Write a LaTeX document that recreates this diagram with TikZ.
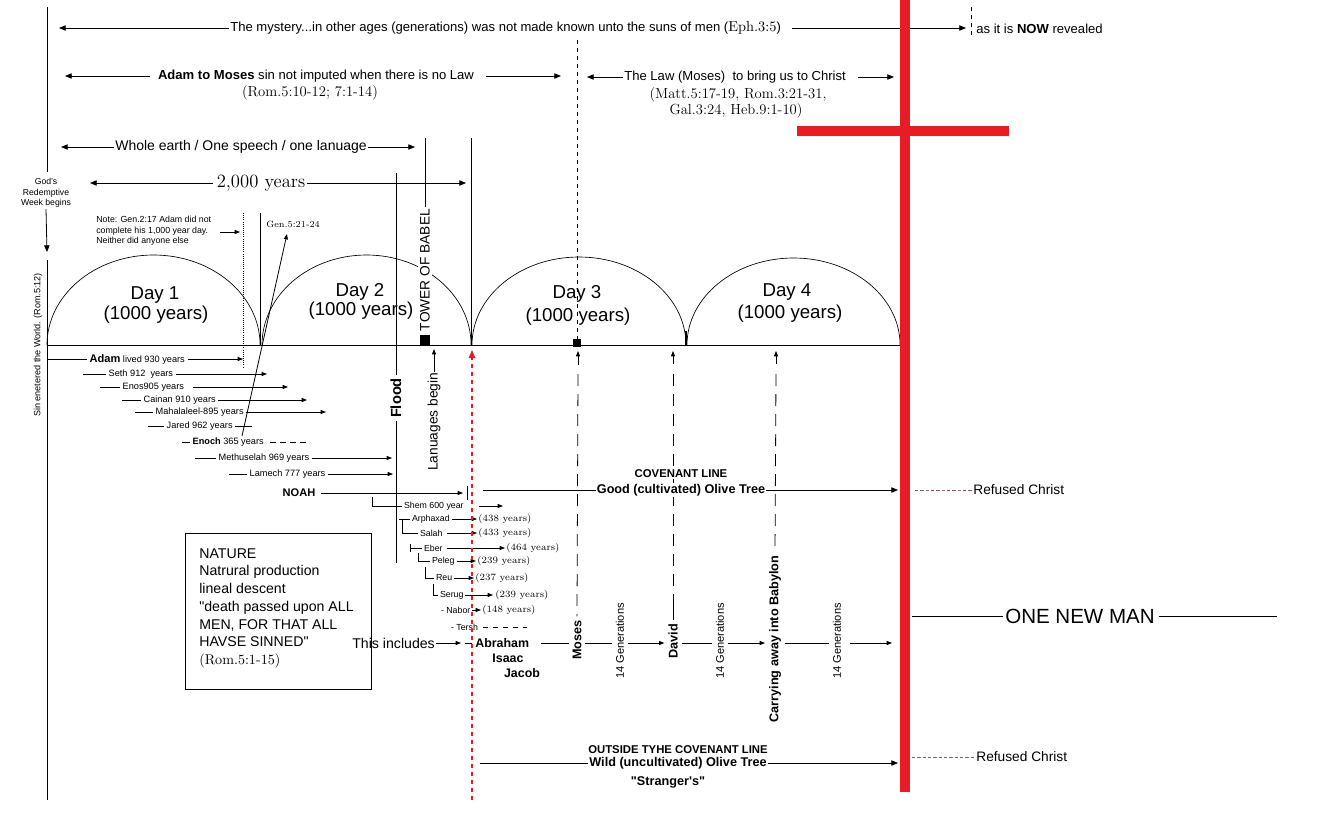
\documentclass[tikz,border=0pt]{standalone}
\usepackage{fontspec}
\setsansfont{Liberation Sans}
\newfontfamily\sfplain{Liberation Sans}[Ligatures=TeXOff]
\usetikzlibrary{arrows.meta}
\definecolor{crossred}{RGB}{232,28,36}
\definecolor{refgray}{RGB}{130,100,100}
\newcommand\sfz[2]{\sffamily\fontsize{#1}{#2}\selectfont}
\newcommand\rmz[2]{\rmfamily\fontsize{#1}{#2}\selectfont}
\begin{document}
\begin{tikzpicture}[x=0.75pt,y=-0.75pt,
  every node/.style={inner sep=1pt,outer sep=0pt,font=\sfz{9.8}{11.8}},
  ln/.style={line width=0.6pt},
  arr/.style={ln,-{Triangle[length=5pt,width=4pt]}},
  sarr/.style={ln,-{Triangle[length=4pt,width=3pt]}},
  gen/.style={anchor=west,inner sep=2pt,font=\sfz{6.9}{8}},
  gen2/.style={anchor=west,inner sep=1.5pt,font=\sfz{6.6}{8}},
  yrs/.style={anchor=west,inner sep=1pt,font=\rmz{7.2}{8}},
  dayt/.style={font=\sfz{14}{16}},
  refs/.style={font=\rmz{11}{13}},
  vbold/.style={rotate=90,inner sep=3pt,font=\bfseries\sfz{9.5}{11}},
  vgen/.style={rotate=90,inner sep=3pt,font=\sfz{8.3}{10}},
  bigdash/.style={ln,dash pattern=on 9pt off 6pt},
  ]
\useasboundingbox (0,0) rectangle (1317,826);
\fill[white] (0,0) rectangle (1317,826);

% ---------- left frame ----------
\coordinate (L0) at (47,7);
\coordinate (L1) at (47,172);
\coordinate (L2) at (47,260);
\coordinate (L3) at (47,800);
\coordinate (Ltip) at (47,252);
\draw[ln] (L0) -- (L1);
\node[font=\sfz{6.5}{8}, align=center] (gods) at (46,193) {God's\\Redemptive\\Week begins};
\draw[arr] (gods.south) -- (Ltip);
\draw[ln] (L2) -- (L3);
\node[rotate=90, font=\sfz{6.8}{8}] (sin) at (38,345) {Sin enetered the World. (Rom.5:12)};

% ---------- top row ----------
\node[anchor=west] (myst) at (229,28) {The mystery...in other ages (generations) was not made known unto the suns of men ({\rmfamily\fontsize{10.8}{12}\selectfont Eph.3:5})};
\coordinate (mystL) at (59,28);
\coordinate (mystR) at (966,28);
\draw[arr] (myst.west) -- (mystL);
\draw[arr] ([xshift=7pt]myst.east) -- (mystR);
\coordinate (nowT) at (971,7);
\coordinate (nowB) at (971,36);
\draw[ln,dashed] (nowT) -- (nowB);
\node[anchor=west] (now) at (975,29) {as it is \textbf{NOW} revealed};

% ---------- Adam to Moses ----------
\node (atm) at (316,76) {\textbf{Adam to Moses} sin not imputed when there is no Law};
\coordinate (atmL) at (65,76);
\coordinate (atmR) at (561,76);
\draw[arr] ([xshift=-5pt]atm.west) -- (atmL);
\draw[arr] ([xshift=8pt]atm.east) -- (atmR);
\node[refs] (rom1) at (310,93) {(Rom.5:10-12; 7:1-14)};

% ---------- The Law ----------
\node[anchor=west] (law) at (623,77) {The Law (Moses)\ \ to bring us to Christ};
\coordinate (lawL) at (587,77);
\coordinate (lawR) at (894,77);
\draw[arr] (law.west) -- (lawL);
\draw[arr] ([xshift=8pt]law.east) -- (lawR);
\node[refs] (matt) at (738,95) {(Matt.5:17-19, Rom.3:21-31,};
\node[refs] (gal) at (736,111) {Gal.3:24, Heb.9:1-10)};

% ---------- Whole earth ----------
\node[anchor=west, font=\sfz{10.5}{12.5}] (whole) at (114,147) {Whole earth / One speech / one lanuage};
\coordinate (wholeL) at (61,147);
\coordinate (wholeR) at (415,147);
\draw[arr] (whole.west) -- (wholeL);
\draw[arr] (whole.east) -- (wholeR);

% ---------- 2,000 years ----------
\node[font=\rmz{14}{16}] (two) at (261,183) {2,000 years};
\coordinate (twoL) at (90,183);
\coordinate (twoR) at (466,183);
\draw[arr] ([xshift=-2pt]two.west) -- (twoL);
\draw[arr] (two.east) -- (twoR);

% ---------- day arcs ----------
\coordinate (b0) at (47,345);
\coordinate (b1) at (905,345);
\draw[ln] (b0) -- (b1);
\draw[line width=0.5pt] (47,345) arc[start angle=180,end angle=0,x radius=79.9pt,y radius=67.5pt];
\draw[line width=0.5pt] (262,345) arc[start angle=180,end angle=0,x radius=78.4pt,y radius=67.5pt];
\draw[line width=0.5pt] (472,345) arc[start angle=180,end angle=0,x radius=80.25pt,y radius=66pt];
\draw[line width=0.5pt] (687,345) arc[start angle=180,end angle=0,x radius=79.9pt,y radius=65.25pt];
\draw[line width=1.3pt] (686,331) -- (686,345);

\node[dayt] (d1a) at (155,295) {Day 1};
\node[dayt] (d1b) at (156,315) {(1000 years)};
\node[dayt] (d2a) at (360,292) {Day 2};
\node[dayt] (d2b) at (361,311) {(1000 years)};
\node[dayt] (d3a) at (577,294) {Day 3};
\node[dayt] (d3b) at (578,317) {(1000 years)};
\node[dayt] (d4a) at (787,292) {Day 4};
\node[dayt] (d4b) at (790,314) {(1000 years)};

% ---------- verticals ----------
\coordinate (v260a) at (260,213);
\coordinate (v260b) at (260,345);
\draw[ln] (v260a) -- (v260b);
\coordinate (v243a) at (243,213);
\coordinate (v243b) at (243,368);
\draw[ln,densely dotted] (v243a) -- (v243b);
\coordinate (v471a) at (471,138);
\coordinate (v471b) at (471,345);
\draw[ln] (v471a) -- (v471b);
\coordinate (floodT) at (396,173);
\coordinate (floodB) at (396,563);
\draw[ln] (floodT) -- (floodB);
\coordinate (mosT) at (577,40);
\coordinate (mosB) at (577,340);
\draw[ln,dashed] (mosT) -- (mosB);
\node[fill=black, inner sep=0pt, minimum size=6pt] (sq2) at (577,343) {};

% note + Gen 5
\node[anchor=west, align=left, font=\sfz{6.6}{7.9}] (note) at (95,231) {Note: Gen.2:17 Adam did not\\complete his 1,000 year day.\\Neither did anyone else};
\coordinate (noteA) at (220,232);
\coordinate (noteB) at (240,232);
\draw[sarr] (noteA) -- (noteB);
\node[anchor=west, font=\rmz{6.8}{8}] (gen5) at (265,224) {Gen.5:21-24};
\coordinate (enochTop) at (242,436);
\coordinate (gen5tip) at (287,234);
\draw[sarr] (enochTop) -- (gen5tip);

% ---------- genealogy 1 ----------
\node[gen] (adam) at (87,359) {{\bfseries\fontsize{8.3}{9}\selectfont Adam} lived 930 years};
\draw[ln] (47,359) -- (adam.west);
\draw[sarr] (adam.east) -- (243,359);
\node[gen] (seth) at (106,374) {Seth 912\ \ years};
\draw[ln] (83,374) -- (seth.west);
\draw[sarr] (seth.east) -- (267,374);
\node[gen] (enos) at (120,387) {Enos905 years};
\draw[ln] (100,387) -- (enos.west);
\draw[sarr] ([xshift=5pt]enos.east) -- (288,387);
\node[gen] (cainan) at (141,400) {Cainan 910 years};
\draw[ln] (122,400) -- (cainan.west);
\draw[sarr] (cainan.east) -- (307,400);
\node[gen] (mahal) at (153,412) {Mahalaleel-895 years};
\draw[ln] (135,412) -- (mahal.west);
\draw[sarr] (mahal.east) -- (326,412);
\node[gen] (jared) at (164,426) {Jared 962 years};
\draw[ln] (148,426) -- (jared.west);
\draw[ln] (jared.east) -- (252,426);
\node[gen] (enoch) at (190,442) {\textbf{Enoch} 365 years};
\draw[ln] (182,442) -- (enoch.west);
\draw[ln,dash pattern=on 4pt off 3.5pt] ([xshift=3pt]enoch.east) -- (308,442);
\node[gen] (meth) at (216,458) {Methuselah 969 years};
\draw[ln] (195,458) -- (meth.west);
\draw[sarr] (meth.east) -- (392,458);
\node[gen] (lamech) at (247,474) {Lamech 777 years};
\draw[ln] (229,474) -- (lamech.west);
\draw[sarr] (lamech.east) -- (393,474);
\node[gen, font=\bfseries\sfz{8.3}{9.5}] (noah) at (280,493) {NOAH};
\draw[sarr] ([xshift=2pt]noah.east) -- (463,493);
\draw[ln] (467,486) -- (467,500);

% ---------- genealogy 2 ----------
\node[gen2] (shem) at (402,506) {Shem 600 year};
\draw[ln] (372,497) |- (shem.west);
\draw[sarr] (479,506) -- (503,506);
\node[gen2] (arph) at (410,519) {Arphaxad};
\draw[ln] (399,519) -- (arph.west);
\draw[sarr] (arph.east) -- (477,519);
\node[yrs] (arphy) at (477,519) {(438 years)};
\node[gen2] (salah) at (418,533) {Salah};
\draw[ln] (402,519) |- (salah.west);
\draw[sarr] ([xshift=2pt]salah.east) -- (477,533);
\node[yrs] (salahy) at (477,533) {(433 years)};
\node[gen2] (eber) at (422,548) {Eber};
\draw[ln] (410,544) -- (410,552);
\draw[ln] (410,548) -- (eber.west);
\draw[sarr] ([xshift=2pt]eber.east) -- (505,548);
\node[yrs] (ebery) at (505,548) {(464 years)};
\node[gen2] (peleg) at (430,561) {Peleg};
\draw[ln] (418,553) |- (peleg.west);
\draw[sarr] (peleg.east) -- (476,561);
\node[yrs] (pelegy) at (476,561) {(239 years)};
\node[gen2] (reu) at (434,578) {Reu};
\draw[ln] (425,567) |- (reu.west);
\draw[sarr] (reu.east) -- (474,578);
\node[yrs] (reuy) at (474,578) {(237 years)};
\node[gen2] (serug) at (438,595) {Serug};
\draw[ln] (433,584) |- (serug.west);
\draw[sarr] (serug.east) -- (493,595);
\node[yrs] (serugy) at (494,595) {(239 years)};
\node[gen2] (nabor) at (439,610) {- Nabor};
\draw[sarr] (nabor.east) -- (481,610);
\node[yrs] (nabory) at (481,610) {(148 years)};
\node[gen2] (tersh) at (449,627) {- Tersh};
\draw[ln,dash pattern=on 4pt off 3.5pt] ([xshift=2pt]tersh.east) -- (527,627);

% ---------- NATURE box ----------
\node[draw, line width=0.6pt, anchor=north west, minimum width=139.5pt, minimum height=117pt] (box) at (185,533) {};
\node[anchor=north west, align=left, font=\sfplain\fontsize{10.6}{13.3}\selectfont] (nat) at (198,547) {NATURE\\Natrural production\\lineal descent\\"death passed upon ALL\\MEN, FOR THAT ALL\\HAVSE SINNED"\\{\rmfamily (Rom.5:1-15)}};

% ---------- generations row ----------
\coordinate (row) at (0,643);
\node[anchor=west, font=\sfz{10.6}{12}] (incl) at (351,643) {This includes};
\draw[sarr] (incl.east) -- (461,643);
\draw[ln] (465,643) -- (472,643);
\node[anchor=west, font=\bfseries\sfz{9.3}{11}] (abr) at (474,643) {Abraham};
\node[font=\bfseries\sfz{9.3}{11}] (isaac) at (508,658) {Isaac};
\node[font=\bfseries\sfz{9.3}{11}] (jacob) at (522,673) {Jacob};
\node[vbold] (moses) at (577,640) {Moses};
\node[vgen] (g1) at (620,641) {14 Generations};
\node[vbold] (david) at (673,641) {David};
\node[vgen] (g2) at (720,641) {14 Generations};
\node[vbold] (bab) at (775,639) {Carrying away into Babylon};
\node[vgen] (g3) at (837,641) {14 Generations};
\draw[ln] ([xshift=8pt]abr.east) -- (moses.north |- row);
\draw[ln] (moses.south |- row) -- (g1.north |- row);
\draw[sarr] (g1.south |- row) -- (david.north |- row);
\draw[ln] (david.south |- row) -- (g2.north |- row);
\draw[sarr] (g2.south |- row) -- (bab.north |- row);
\draw[ln] (bab.south |- row) -- (g3.north |- row);
\draw[sarr] ([xshift=4pt]g3.south |- row) -- (892,643);

% up arrows and long dashed lines
\draw[sarr] (578,365) -- (578,351);
\draw[bigdash] (578,374) -- (moses.east);
\draw[sarr] (673,364) -- (673,351);
\draw[bigdash] (673,374) -- (673,598);
\draw[ln] (673,598) -- (david.east);
\draw[sarr] (776,364) -- (776,351);
\draw[bigdash] (776,374) -- (bab.east);

% ---------- covenant lines ----------
\node[fill=white, font=\bfseries\sfz{8.5}{10}] (cov1) at (681,474) {COVENANT LINE};
\node[fill=white, font=\bfseries\sfz{9.5}{11}] (cov2) at (681,490) {Good (cultivated) Olive Tree};
\draw[ln] (483,490) -- (cov2.west);
\draw[arr] (cov2.east) -- (898,490);
\node[fill=white, font=\bfseries\sfz{8.5}{10}] (out1) at (678,750) {OUTSIDE TYHE COVENANT LINE};
\node[fill=white, font=\bfseries\sfz{9.5}{11}] (out2) at (678,763) {Wild (uncultivated) Olive Tree};
\node[font=\bfseries\sfplain\fontsize{9.5}{11}\selectfont] (out3) at (668,782) {"Stranger's"};
\draw[ln] (480,763) -- (out2.west);
\draw[arr] (out2.east) -- (898,763);

% ---------- right side ----------
\node[anchor=west, font=\sfz{10.3}{12}] (ref1) at (972,490) {Refused Christ};
\draw[refgray, line width=0.5pt, dash pattern=on 2.5pt off 1.5pt] (915,490) -- (ref1.west);
\node[anchor=west, font=\sfz{10.3}{12}] (ref2) at (975,757) {Refused Christ};
\draw[refgray, line width=0.5pt, dash pattern=on 2.5pt off 1.5pt] (912,757) -- (ref2.west);
\node[font=\sfz{15.4}{18}] (onm) at (1080,616) {ONE NEW MAN};
\draw[ln] (912,616) -- ([xshift=-1pt]onm.west);
\draw[ln] ([xshift=2pt]onm.east) -- (1277,616);

% ---------- tower / flood / languages ----------
\node[rotate=90, anchor=west, fill=white, inner sep=1.5pt, font=\sfz{10.3}{12}] (tower) at (425,333) {TOWER OF BABEL};
\draw[ln] (425,138) -- (tower.east);
\node[fill=black, inner sep=0pt, minimum size=6.8pt] (sq1) at (425,340) {};
\node[rotate=90, fill=white, inner sep=2pt, font=\bfseries\sfz{11}{13}] (flood) at (396,398) {Flood};
\node[rotate=90, anchor=west, inner sep=1pt, font=\sfz{10.3}{12}] (lang) at (434,472) {Lanuages begin};
\draw[sarr] (lang.east) -- (434,349);

% ---------- red ----------
\draw[crossred, line width=0.8pt, dashed, -{Triangle[length=6pt,width=5pt]}] (472,800) -- (472,350);
\draw[crossred, line width=6.8pt] (905,0) -- (905,792);
\draw[crossred, line width=6.8pt] (797,131) -- (1009,131);
\end{tikzpicture}
\end{document}
